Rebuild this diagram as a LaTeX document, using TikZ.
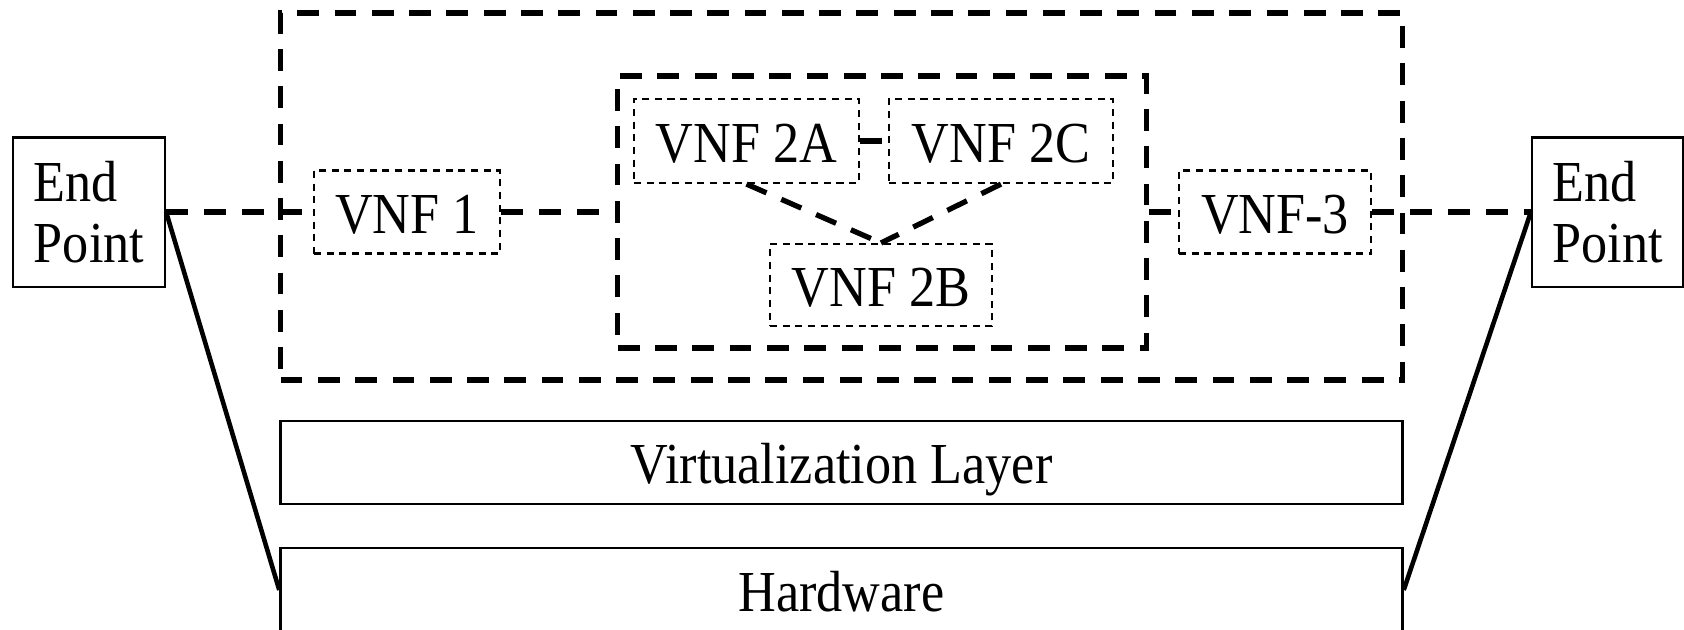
\documentclass[tikz,border=0pt]{standalone}
\usepackage{fontspec}
\setmainfont[FakeStretch=0.9]{Liberation Serif}
\begin{document}
\begin{tikzpicture}[x=0.01cm,y=-0.01cm,
  txt/.style={font=\fontsize{16.5}{17.5}\selectfont},
  oneline/.style={text height=12.2pt,text depth=0pt},
  solidbox/.style={draw,line width=0.6pt,inner sep=0pt,txt},
  vnfbox/.style={draw,line width=0.6pt,dash pattern=on 2pt off 1.6pt,inner sep=0pt,txt,oneline},
  groupbox/.style={draw,line width=1.5pt,dash pattern=on 6.2pt off 4.4pt,inner sep=0pt},
  link/.style={line width=1.5pt,dash pattern=on 6.2pt off 4.6pt},
  wire/.style={line width=1.3pt}]
\useasboundingbox (0,0) rectangle (1684,629);
% groups
\node[groupbox,minimum width=11.21cm,minimum height=3.67cm] (outer) at (841.5,196.5) {};
\node[groupbox,minimum width=5.28cm,minimum height=2.72cm] (inner) at (882,212) {};
% end points
\node[solidbox,minimum width=1.52cm,minimum height=1.49cm,align=left] (epL) at (89,212) {End\\Point};
\node[solidbox,minimum width=1.51cm,minimum height=1.49cm,align=left] (epR) at (1607.5,212) {End\\Point};
% VNFs
\node[vnfbox,minimum width=1.86cm,minimum height=0.83cm] (v1) at (407,212) {VNF 1};
\node[vnfbox,minimum width=2.25cm,minimum height=0.84cm] (v2a) at (746.5,141) {VNF 2A};
\node[vnfbox,minimum width=2.24cm,minimum height=0.84cm] (v2c) at (1001,141) {VNF 2C};
\node[vnfbox,minimum width=2.22cm,minimum height=0.82cm] (v2b) at (881,285) {VNF 2B};
\node[vnfbox,minimum width=1.92cm,minimum height=0.83cm] (v3) at (1275,212) {VNF-3};
% layers
\node[solidbox,oneline,line width=0.8pt,minimum width=11.21cm,minimum height=0.83cm] (virt) at (841.5,462.5) {Virtualization Layer};
\node[solidbox,oneline,line width=0.8pt,minimum width=11.21cm,minimum height=0.84cm] (hw) at (841.5,590) {Hardware};
% dashed links
\draw[link] (epL.east) -- (v1.west);
\draw[link] (v1.east) -- (inner.west |- v1.east);
\draw[link] (inner.east |- v3.west) -- (v3.west);
\draw[link] (v3.east) -- (epR.west);
\draw[link] (v2a.east) -- (v2c.west);
\draw[link] (v2a.south) -- (v2b.north);
\draw[link] (v2c.south) -- (v2b.north);
% solid wires
\draw[wire] (epL.east) -- (hw.west);
\draw[wire] (epR.west) -- (hw.east);
\end{tikzpicture}
\end{document}
